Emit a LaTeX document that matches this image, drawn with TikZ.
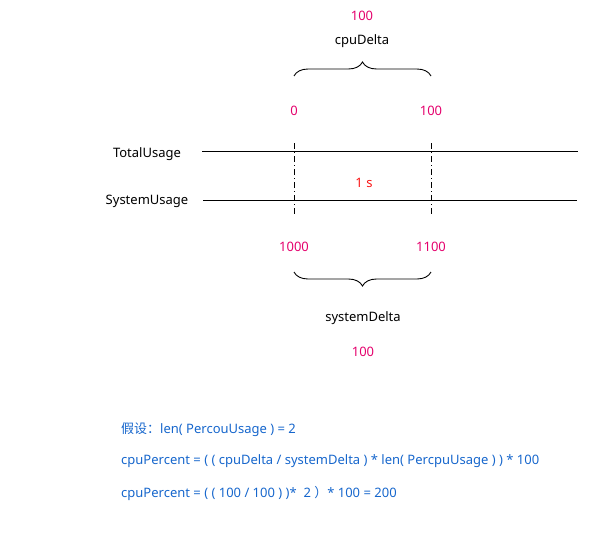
\documentclass[tikz,border=0pt]{standalone}
\usepackage{fontspec}
\setmainfont{Noto Sans}
\newfontfamily\cjk{Noto Sans CJK SC}
\usetikzlibrary{positioning}
\usetikzlibrary{decorations.pathreplacing}
\definecolor{valpink}{RGB}{228,0,108}
\definecolor{secred}{RGB}{250,20,20}
\definecolor{formblue}{RGB}{22,102,204}
\tikzset{
semithick, % All lines semithick
my text/.style={font=\fontsize{13}{15}\selectfont,inner sep=0pt,yshift=-1.5pt},
my value/.style={my text,text=valpink},
my formula/.style={my text,text=formblue,anchor=west},
timeline/.style={line width=0.9pt},
marker/.style={line width=0.9pt,dash pattern=on 6pt off 3pt on 1pt off 3pt},
span brace/.style={line width=0.9pt,decorate,decoration={brace,amplitude=14pt}},
}
\begin{document}
\begin{tikzpicture}[x=1pt,y=-1pt]
\useasboundingbox (0,0) rectangle (610,533);
% the two usage lines
\node[my text] (total) at (147,153) {TotalUsage};
\node[my text] (system) at (147,200) {SystemUsage};
\coordinate (total start) at (202,151);
\coordinate (total end) at (578,151);
\coordinate (system start) at (203,200);
\coordinate (system end) at (577,200);
\draw[timeline] (total start) -- (total end);
\draw[timeline] (system start) -- (system end);
% sample markers
\coordinate (t0 top) at (294,143);
\coordinate (t0 bottom) at (294,216);
\coordinate (t1 top) at (431,143);
\coordinate (t1 bottom) at (431,216);
\draw[marker] (t0 top) -- (t0 bottom);
\draw[marker] (t1 top) -- (t1 bottom);
\node[my text,text=secred] (interval) at (364,181) {1 s};
% cpuDelta
\node[my value] (cpu0) at (294,109) {0};
\node[my value] (cpu1) at (431,109) {100};
\coordinate (cpu brace left) at (294,76);
\coordinate (cpu brace right) at (431,76);
\draw[span brace] (cpu brace left) -- (cpu brace right);
\node[my text] (cpu delta) at (362,40) {cpuDelta};
\node[my value] (cpu diff) at (362,14) {100};
% systemDelta
\node[my value] (sys0) at (294,245) {1000};
\node[my value] (sys1) at (431,245) {1100};
\coordinate (sys brace left) at (294,272);
\coordinate (sys brace right) at (431,272);
\draw[span brace] (sys brace right) -- (sys brace left);
\node[my text] (sys delta) at (363,317) {systemDelta};
\node[my value] (sys diff) at (363,350) {100};
% formulas
\node[my formula] (assume) at (121,428) {{\cjk 假设：}len( PercouUsage ) = 2};
\node[my formula] (formula) at (121,460) {cpuPercent = ( ( cpuDelta / systemDelta ) * len( PercpuUsage ) ) * 100};
\node[my formula] (result) at (121,492) {cpuPercent = ( ( 100 / 100 ) )*\ \ 2 {\cjk ）}* 100 = 200};
\end{tikzpicture}
\end{document}
